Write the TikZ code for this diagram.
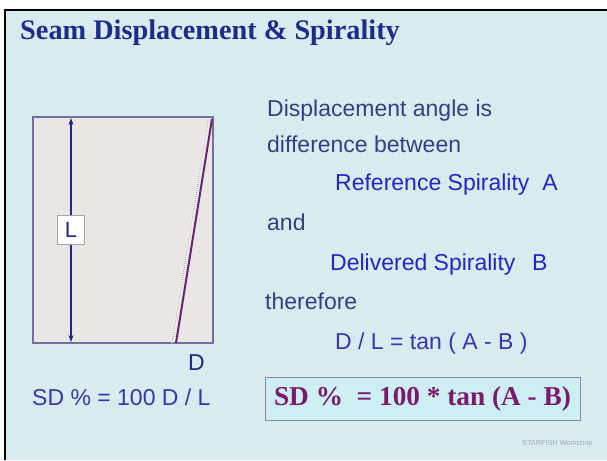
\documentclass[tikz,border=0pt]{standalone}
\usepackage{fontspec}
\setmainfont{Liberation Sans}
\newfontfamily\serifbold{Liberation Serif}
\usetikzlibrary{arrows.meta,positioning}
\definecolor{slidebg}{HTML}{D8ECEF}
\definecolor{titleblue}{HTML}{1C2B8C}
\definecolor{textdark}{HTML}{3B3B85}
\definecolor{textblue}{HTML}{2424C8}
\definecolor{textmid}{HTML}{3636B4}
\definecolor{clothfill}{HTML}{E9E6E3}
\definecolor{clothedge}{HTML}{7070A0}
\definecolor{arrowblue}{HTML}{1E2A86}
\definecolor{seampurple}{HTML}{6B2470}
\definecolor{boxfill}{HTML}{CDEFF4}
\definecolor{boxedge}{HTML}{8A8AA6}
\definecolor{formulapurple}{HTML}{7A1A6E}
\tikzset{
  line/.style={anchor=base west,inner sep=0pt,text=textdark,
    font=\fontsize{23}{27}\selectfont},
  keyline/.style={line,text=textblue},
  cloth/.style={draw=clothedge,fill=clothfill,line width=1.2pt,
    minimum width=180pt,minimum height=226pt,inner sep=0pt},
  dim/.style={{Stealth[length=7pt,width=5pt]}-{Stealth[length=7pt,width=5pt]},
    arrowblue,line width=1.3pt},
  lbox/.style={draw=gray!70,fill=white,line width=0.8pt,
    minimum width=27pt,minimum height=29pt,inner sep=0pt,
    text=arrowblue,font=\fontsize{22}{26}\selectfont},
  formula/.style={draw=boxedge,fill=boxfill,line width=0.8pt,
    minimum width=315pt,minimum height=43pt,inner sep=0pt,
    text=formulapurple,font=\serifbold\bfseries\fontsize{27.3}{30}\selectfont}
}
\begin{document}
\begin{tikzpicture}[x=1pt,y=-1pt]
\useasboundingbox (0,0) rectangle (607,460);
\fill[white] (0,0) rectangle (607,460);
\fill[slidebg] (5,10) rectangle (607,460);
\draw[black,line width=1.5pt] (5,460) -- (5,10) -- (607,10);

\node[anchor=base west,inner sep=0pt,text=titleblue,
  font=\serifbold\bfseries\fontsize{28.3}{32}\selectfont] (title) at (20,40)
  {Seam Displacement \& Spirality};

% fabric sample
\node[cloth] (cloth) at (123,230) {};
\coordinate (ltop) at (71,118);
\coordinate (lbot) at (71,342);
\draw[dim] (ltop) -- node[lbox] (lab) {L} (lbot);
\coordinate (seamtop) at (212,119);
\coordinate (seambot) at (176,343);
\coordinate (reftop) at (208,121);
\coordinate (refbot) at (172,343);
\draw[white,line width=1.8pt] (reftop) -- (refbot);
\draw[gray!75,line width=1.2pt,dash pattern=on 0.8pt off 1.2pt] (reftop) -- (refbot);
\draw[seampurple,line width=2pt] (seamtop) -- (seambot);
\node[line,text=arrowblue] (dlab) at (188,370) {D};
\node[line,text=textmid] (sdleft) at (32,405) {SD \% = 100 D / L};

% explanation
\node[line] (t1) at (267,116) {Displacement angle is};
\node[line] (t2) at (267,152) {difference between};
\node[keyline] (t3) at (335,190) {Reference Spirality\ \ A};
\node[line] (t4) at (267,230) {and};
\node[keyline] (t5) at (330,270) {Delivered Spirality\ \ \,B};
\node[line] (t6) at (265,309) {therefore};
\node[line,text=textmid] (t7) at (335,349) {D / L = tan ( A - B )};

\node[formula] (sd) at (422.5,398.5) {SD \%\ \ = 100 * tan (A - B)};
\node[anchor=base west,inner sep=0pt,text=gray!70,
  font=\fontsize{7.3}{9}\selectfont] (credit) at (522,445) {STARFISH Workshop};
\end{tikzpicture}
\end{document}
